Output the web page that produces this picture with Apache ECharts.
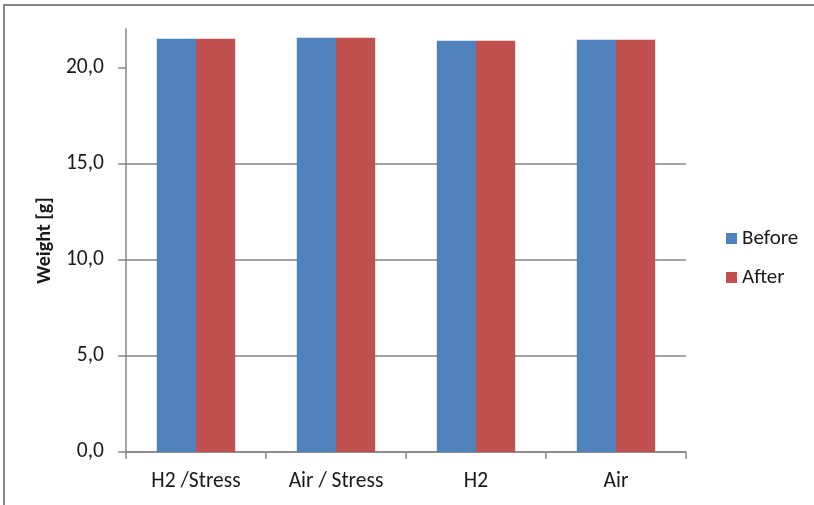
<!DOCTYPE html>
<html>
<head>
<meta charset="utf-8">
<script src="https://cdn.jsdelivr.net/npm/echarts@6/dist/echarts.min.js"></script>
<style>
html,body{margin:0;padding:0;background:#fff;}
#c{width:814px;height:505px;}
</style>
</head>
<body>
<div id="c"></div>
<script>
const categories = ['H2 /Stress', 'Air / Stress', 'H2', 'Air'];
const beforeValues = [21.49, 21.54, 21.39, 21.44];
const afterValues = [21.49, 21.54, 21.39, 21.44];
const yTicks = [0, 5, 10, 15, 20];
const seriesNames = ['Before', 'After'];

const FONT = "Carlito, 'Open Sans', sans-serif";
const GRAY = '#868686';
const TXT = '#1a1a1a';
const chart = echarts.init(document.getElementById('c'));
chart.setOption({
  animation: false,
  backgroundColor: '#fff',
  color: ['#4F81BD', '#C0504D'],
  graphic: [{
    type: 'rect',
    shape: { x: 4, y: 5, width: 1000, height: 1000 },
    style: { fill: 'none', stroke: GRAY, lineWidth: 2 },
    silent: true
  }],
  grid: { left: 126, right: 128, top: 29, bottom: 53 },
  legend: {
    orient: 'vertical',
    left: 721,
    top: 223,
    icon: 'rect',
    itemWidth: 11,
    itemHeight: 11,
    itemGap: 18,
    textStyle: { fontFamily: FONT, fontSize: 21, color: TXT },
    data: seriesNames
  },
  xAxis: {
    type: 'category',
    data: categories,
    axisLine: { lineStyle: { color: GRAY, width: 1.5 } },
    axisTick: { show: true, length: 7, lineStyle: { color: GRAY, width: 1.5 } },
    axisLabel: { fontFamily: FONT, fontSize: 21.5, color: TXT, margin: 19 }
  },
  yAxis: {
    type: 'value',
    min: 0,
    max: 22,
    interval: 5,
    name: 'Weight [g]',
    nameLocation: 'middle',
    nameGap: 71,
    nameTextStyle: { fontFamily: FONT, fontSize: 20, fontWeight: 'bold', color: TXT },
    axisLine: { show: true, lineStyle: { color: GRAY, width: 1.5 } },
    axisTick: { show: true, length: 8, customValues: yTicks, lineStyle: { color: GRAY, width: 1.5 } },
    splitLine: { show: true, showMaxLine: false, lineStyle: { color: GRAY, width: 1.5 } },
    axisLabel: {
      customValues: yTicks,
      fontFamily: FONT, fontSize: 21.5, color: TXT, margin: 22,
      formatter: v => v.toFixed(1).replace('.', ',')
    }
  },
  series: [
    { name: seriesNames[0], type: 'bar', data: beforeValues, barGap: '0%', barCategoryGap: '44%' },
    { name: seriesNames[1], type: 'bar', data: afterValues, barGap: '0%', barCategoryGap: '44%' }
  ]
});
</script>
</body>
</html>
